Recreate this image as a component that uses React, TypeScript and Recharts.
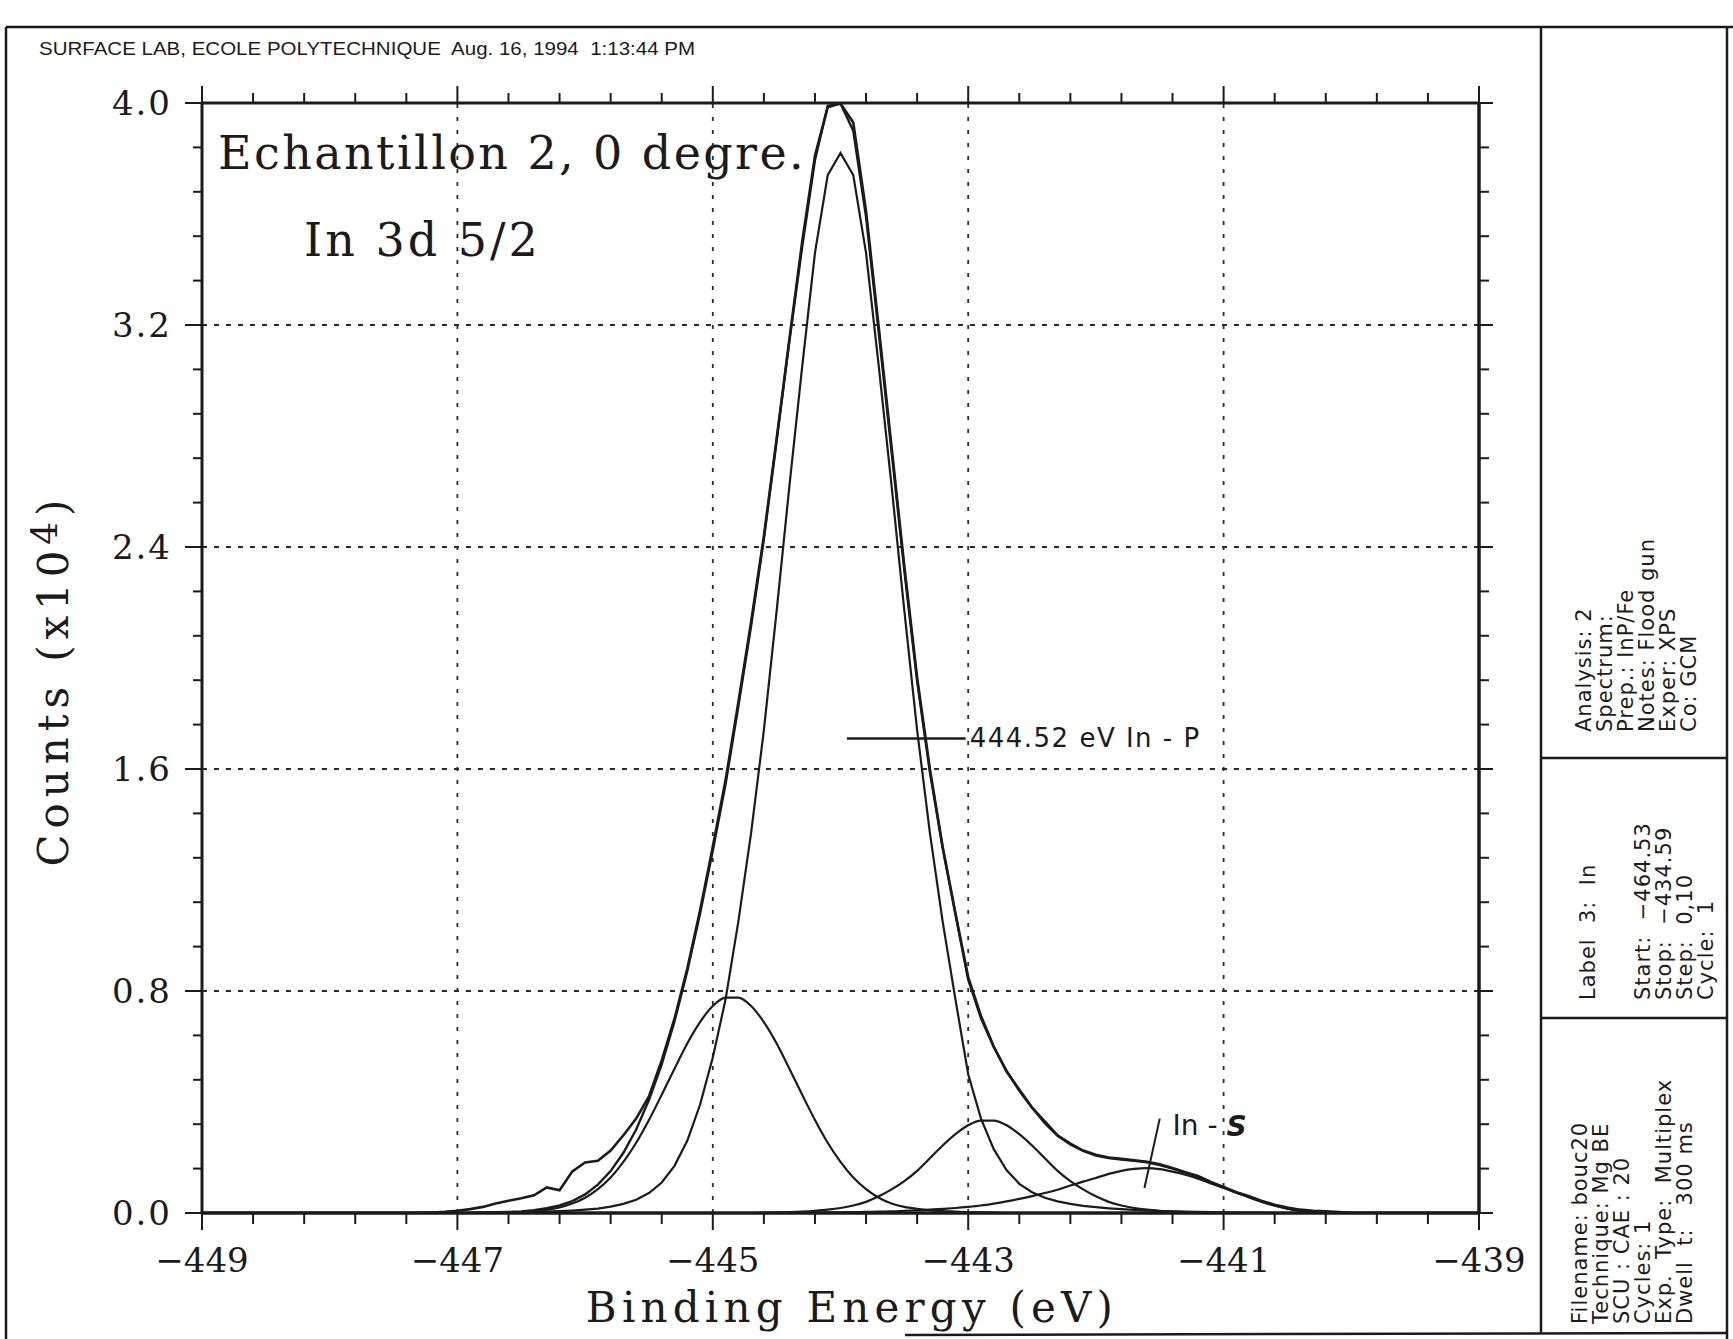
import React from 'react';
import { LineChart, Line, XAxis, YAxis, ReferenceLine, ReferenceDot } from 'recharts';

// binding energy (eV); every curve below is sampled on this grid
const energy = [
  -449, -448,
  -447.5, -447.4, -447.3, -447.2, -447.1, -447.0, -446.9, -446.8, -446.7, -446.6,
  -446.5, -446.4, -446.3, -446.2, -446.1, -446.0, -445.9, -445.8, -445.7, -445.6,
  -445.5, -445.4, -445.3, -445.2, -445.1, -445.0, -444.9, -444.8, -444.7, -444.6,
  -444.5, -444.4, -444.3, -444.2, -444.1, -444.0, -443.9, -443.8, -443.7, -443.6,
  -443.5, -443.4, -443.3, -443.2, -443.1, -443.0, -442.9, -442.8, -442.7, -442.6,
  -442.5, -442.4, -442.3, -442.2, -442.1, -442.0, -441.9, -441.8, -441.7, -441.6,
  -441.5, -441.4, -441.3, -441.2, -441.1, -441.0, -440.9, -440.8, -440.7, -440.6,
  -440.5, -440.4, -440.3, -440.2, -440.1, -440.0,
  -439.5, -439,
];

// counts (x10^4)
const measured = [
  0, 0,
  0, 0, 0, 0.002, 0.004, 0.008, 0.014, 0.022, 0.034, 0.044,
  0.053, 0.064, 0.092, 0.082, 0.15, 0.182, 0.188, 0.225, 0.28, 0.34,
  0.42, 0.55, 0.7, 0.88, 1.09, 1.32, 1.56, 1.84, 2.13, 2.44,
  2.79, 3.15, 3.5, 3.81, 3.985, 3.998, 3.93, 3.61, 3.19, 2.76,
  2.33, 1.93, 1.6, 1.32, 1.08, 0.85, 0.71, 0.6, 0.51, 0.445,
  0.38, 0.33, 0.28, 0.25, 0.225, 0.21, 0.2, 0.195, 0.19, 0.185,
  0.176, 0.162, 0.147, 0.133, 0.112, 0.094, 0.075, 0.06, 0.043, 0.03,
  0.02, 0.012, 0.008, 0.006, 0.003, 0.001,
  0, 0,
];

const envelopeFit = [
  0, 0,
  0, 0, 0, 0, 0, 0, 0, 0.002, 0.003, 0.004,
  0.006, 0.01, 0.017, 0.027, 0.043, 0.067, 0.102, 0.151, 0.217, 0.301,
  0.407, 0.536, 0.69, 0.871, 1.078, 1.306, 1.546, 1.826, 2.116, 2.429,
  2.783, 3.143, 3.482, 3.794, 3.99, 3.998, 3.9, 3.59, 3.17, 2.745,
  2.315, 1.917, 1.589, 1.315, 1.077, 0.841, 0.702, 0.598, 0.513, 0.44,
  0.379, 0.324, 0.278, 0.247, 0.224, 0.207, 0.198, 0.193, 0.188, 0.183,
  0.173, 0.16, 0.146, 0.13, 0.11, 0.092, 0.074, 0.057, 0.041, 0.027,
  0.016, 0.008, 0.003, 0.001, 0, 0,
  0, 0,
];

// In - P component
const peakInP = [
  0, 0,
  0, 0, 0, 0, 0, 0, 0, 0.001, 0.001, 0.002,
  0.003, 0.004, 0.005, 0.007, 0.009, 0.012, 0.016, 0.023, 0.033, 0.048,
  0.072, 0.11, 0.17, 0.26, 0.39, 0.56, 0.77, 1.05, 1.37, 1.74,
  2.17, 2.62, 3.05, 3.46, 3.74, 3.82, 3.74, 3.46, 3.05, 2.62,
  2.17, 1.74, 1.37, 1.05, 0.77, 0.5, 0.34, 0.23, 0.155, 0.105,
  0.075, 0.055, 0.042, 0.033, 0.026, 0.021, 0.017, 0.014, 0.011, 0.009,
  0.007, 0.006, 0.005, 0.004, 0.003, 0.002, 0.001, 0.001, 0.001, 0,
  0, 0, 0, 0, 0, 0,
  0, 0,
];

// low energy shoulder component
const peakLow = [
  0, 0,
  0, 0, 0, 0, 0, 0, 0, 0.001, 0.002, 0.002,
  0.003, 0.006, 0.012, 0.02, 0.034, 0.055, 0.086, 0.128, 0.184, 0.253,
  0.335, 0.426, 0.52, 0.611, 0.688, 0.746, 0.776, 0.776, 0.746, 0.688,
  0.611, 0.52, 0.426, 0.335, 0.253, 0.184, 0.128, 0.086, 0.055, 0.034,
  0.022, 0.015, 0.01, 0.007, 0.005, 0.003, 0.002, 0.001, 0, 0,
  0, 0, 0, 0, 0, 0, 0, 0, 0, 0,
  0, 0, 0, 0, 0, 0, 0, 0, 0, 0,
  0, 0, 0, 0, 0, 0,
  0, 0,
];

// component near -443
const peakMid = [
  0, 0,
  0, 0, 0, 0, 0, 0, 0, 0, 0, 0,
  0, 0, 0, 0, 0, 0, 0, 0, 0, 0,
  0, 0, 0, 0, 0, 0, 0, 0, 0, 0.001,
  0.002, 0.003, 0.005, 0.008, 0.012, 0.018, 0.027, 0.04, 0.06, 0.085,
  0.115, 0.152, 0.197, 0.243, 0.284, 0.316, 0.333, 0.333, 0.316, 0.284,
  0.243, 0.197, 0.152, 0.115, 0.085, 0.06, 0.04, 0.027, 0.018, 0.012,
  0.008, 0.005, 0.003, 0.002, 0.001, 0, 0, 0, 0, 0,
  0, 0, 0, 0, 0, 0,
  0, 0,
];

// In - S component
const peakInS = [
  0, 0,
  0, 0, 0, 0, 0, 0, 0, 0, 0, 0,
  0, 0, 0, 0, 0, 0, 0, 0, 0, 0,
  0, 0, 0, 0, 0, 0, 0, 0, 0, 0,
  0, 0, 0.001, 0.001, 0.002, 0.002, 0.003, 0.004, 0.005, 0.006,
  0.008, 0.01, 0.012, 0.015, 0.018, 0.022, 0.027, 0.034, 0.042, 0.051,
  0.061, 0.072, 0.084, 0.099, 0.113, 0.126, 0.141, 0.152, 0.159, 0.162,
  0.158, 0.149, 0.138, 0.124, 0.106, 0.09, 0.073, 0.056, 0.04, 0.027,
  0.016, 0.008, 0.003, 0.001, 0, 0,
  0, 0,
];

const xLabelTicks = [-449, -447, -445, -443, -441, -439];
const xTicks = [
  -449, -448.6, -448.2, -447.8, -447.4, -447, -446.6, -446.2, -445.8, -445.4, -445,
  -444.6, -444.2, -443.8, -443.4, -443, -442.6, -442.2, -441.8, -441.4, -441,
  -440.6, -440.2, -439.8, -439.4, -439,
];
const yLabelTicks = [0, 0.8, 1.6, 2.4, 3.2, 4.0];
const yTicks = [
  0, 0.16, 0.32, 0.48, 0.64, 0.8, 0.96, 1.12, 1.28, 1.44, 1.6, 1.76, 1.92,
  2.08, 2.24, 2.4, 2.56, 2.72, 2.88, 3.04, 3.2, 3.36, 3.52, 3.68, 3.84, 4.0,
];
const gridX = [-447, -445, -443, -441];
const gridY = [0.8, 1.6, 2.4, 3.2];

const topBlock = ['Analysis: 2', 'Spectrum:', 'Prep.: InP/Fe', 'Notes: Flood gun', 'Exper: XPS', 'Co: GCM'];
const midBlock = ['Start:  \u2212464.53', 'Stop:  \u2212434.59', 'Step:  0,10', 'Cycle:  1'];
const lowBlock = ['Filename: bouc20', 'Technique: Mg BE', 'SCU : CAE : 20', 'Cycles: 1', 'Exp.  Type:  Multiplex', 'Dwell  t:   300 ms'];

const rows = energy.map((e, i) => ({
  e,
  measured: measured[i],
  envelopeFit: envelopeFit[i],
  peakInP: peakInP[i],
  peakLow: peakLow[i],
  peakMid: peakMid[i],
  peakInS: peakInS[i],
}));

const W = 1733;
const H = 1339;
const INK = '#1b1b1b';
const serif = '"DejaVu Serif", serif';
const sans = '"DejaVu Sans", sans-serif';

const isOn = (list: number[], v: number) => list.some((t) => Math.abs(t - v) < 1e-6);
const tickText = { fontFamily: serif, fontSize: 34, fill: INK };

function BottomTick({ x, y, payload }: any) {
  const major = isOn(xLabelTicks, payload.value);
  return (
    <g>
      <line x1={x} y1={y} x2={x} y2={y + (major ? 17 : 11)} stroke={INK} strokeWidth={2} />
      {major && (
        <text x={x} y={y + 47} textAnchor="middle" dominantBaseline="central" style={tickText}>
          {'\u2212' + Math.abs(payload.value)}
        </text>
      )}
    </g>
  );
}

function TopTick({ x, y, payload }: any) {
  const major = isOn(xLabelTicks, payload.value);
  return <line x1={x} y1={y} x2={x} y2={y - (major ? 17 : 10)} stroke={INK} strokeWidth={2} />;
}

function LeftTick({ x, y, payload }: any) {
  const major = isOn(yLabelTicks, payload.value);
  return (
    <g>
      <line x1={x} y1={y} x2={x - (major ? 17 : 9)} y2={y} stroke={INK} strokeWidth={2} />
      {major && (
        <text x={x - 30} y={y} textAnchor="end" dominantBaseline="central" style={{ ...tickText, letterSpacing: 2 }}>
          {payload.value.toFixed(1)}
        </text>
      )}
    </g>
  );
}

function RightTick({ x, y, payload }: any) {
  const major = isOn(yLabelTicks, payload.value);
  return <line x1={x} y1={y} x2={x + (major ? 14 : 10)} y2={y} stroke={INK} strokeWidth={2} />;
}

function Overlay() {
  const col = (cx: number, y0: number, text: string, key: string) => (
    <text
      key={key}
      x={cx + 7}
      y={y0}
      transform={`rotate(-90 ${cx + 7} ${y0})`}
      style={{ fontFamily: sans, fontSize: 21, letterSpacing: 1, fill: INK, whiteSpace: 'pre' }}
    >
      {text}
    </text>
  );
  return (
    <svg width={W} height={H} style={{ position: 'absolute', left: 0, top: 0, pointerEvents: 'none' }}>
      <g stroke={INK} strokeWidth={2.5} fill="none">
        <line x1={6} y1={27} x2={W} y2={27} />
        <line x1={6} y1={27} x2={6} y2={H} />
        <line x1={1541} y1={27} x2={1541} y2={1334} />
        <line x1={1727} y1={27} x2={1727} y2={H} />
        <line x1={1541} y1={758} x2={1727} y2={758} />
        <line x1={1541} y1={1018} x2={1727} y2={1018} />
        <line x1={905} y1={1335} x2={1727} y2={1333} />
      </g>
      <text
        x={39}
        y={55}
        textLength={656}
        lengthAdjust="spacingAndGlyphs"
        style={{ fontFamily: '"Liberation Sans", sans-serif', fontSize: 18, fill: INK, whiteSpace: 'pre' }}
      >
        SURFACE LAB, ECOLE POLYTECHNIQUE  Aug. 16, 1994  1:13:44 PM
      </text>
      <text x={218} y={169} style={{ fontFamily: serif, fontSize: 46, letterSpacing: 2.4, fill: INK }}>
        Echantillon 2, 0 degre.
      </text>
      <text x={304} y={256} style={{ fontFamily: serif, fontSize: 46, letterSpacing: 3, fill: INK }}>
        In 3d 5/2
      </text>
      <text x={852} y={1322} textAnchor="middle" style={{ fontFamily: serif, fontSize: 42, letterSpacing: 5.2, fill: INK }}>
        Binding Energy (eV)
      </text>
      <text
        x={53}
        y={680}
        textAnchor="middle"
        dominantBaseline="central"
        transform="rotate(-90 53 680)"
        style={{ fontFamily: serif, fontSize: 42, letterSpacing: 5.9, fill: INK }}
      >
        Counts (x10<tspan fontSize={36} dy={-9}>4</tspan><tspan dy={9}>)</tspan>
      </text>
      {topBlock.map((t, i) => col(1584 + i * 21, 732, t, 'a' + i))}
      {col(1588, 1000, 'Label  3:  In', 'lb')}
      {midBlock.map((t, i) => col(1643 + i * 21, 1000, t, 'm' + i))}
      {lowBlock.map((t, i) => col(1580 + i * 21, 1324, t, 'f' + i))}
    </svg>
  );
}

const inPLabel = (p: any) => (
  <text x={p.cx + 4} y={p.cy} dominantBaseline="central" style={{ fontFamily: sans, fontSize: 26, letterSpacing: 1.5, fill: INK }}>
    444.52 eV In - P
  </text>
);

const inSLabel = (p: any) => (
  <text x={p.cx} y={p.cy} dominantBaseline="central" style={{ fontFamily: sans, fontSize: 28, fill: INK }}>
    In - <tspan fontWeight="bold" fontStyle="italic">S</tspan>
  </text>
);

export default function App() {
  const line = { xAxisId: 'b', yAxisId: 'l', dot: false, isAnimationActive: false, stroke: INK } as const;
  const axisCommon = { type: 'number', allowDataOverflow: true, interval: 0, tickSize: 0, tickMargin: 0, tickLine: false } as const;
  return (
    <div style={{ position: 'absolute', left: 0, top: 0, width: W, height: H, background: '#fff' }}>
      <LineChart width={W} height={H} data={rows} margin={{ top: 102, right: 253, bottom: 125, left: 201 }}>
        <XAxis
          {...axisCommon}
          xAxisId="b"
          dataKey="e"
          domain={[-449, -439]}
          ticks={xTicks}
          tick={BottomTick}
          height={1}
          axisLine={{ stroke: INK, strokeWidth: 3.5 }}
        />
        <XAxis
          {...axisCommon}
          xAxisId="t"
          orientation="top"
          dataKey="e"
          domain={[-449, -439]}
          ticks={xTicks}
          tick={TopTick}
          height={1}
          axisLine={{ stroke: INK, strokeWidth: 3 }}
        />
        <YAxis
          {...axisCommon}
          yAxisId="l"
          domain={[0, 4]}
          ticks={yTicks}
          tick={LeftTick}
          width={1}
          axisLine={{ stroke: INK, strokeWidth: 3 }}
        />
        <YAxis
          {...axisCommon}
          yAxisId="r"
          orientation="right"
          domain={[0, 4]}
          ticks={yTicks}
          tick={RightTick}
          width={1}
          axisLine={{ stroke: INK, strokeWidth: 3.5 }}
        />
        {gridY.map((v) => (
          <ReferenceLine key={'h' + v} xAxisId="b" yAxisId="l" y={v} stroke="#2a2a2a" strokeWidth={1.8} strokeDasharray="5 7" />
        ))}
        {gridX.map((v) => (
          <ReferenceLine key={'v' + v} xAxisId="b" yAxisId="l" x={v} stroke="#2a2a2a" strokeWidth={1.8} strokeDasharray="4 9" />
        ))}
        <Line {...line} type="monotone" dataKey="peakLow" strokeWidth={2.2} />
        <Line {...line} type="monotone" dataKey="peakMid" strokeWidth={2.2} />
        <Line {...line} type="monotone" dataKey="peakInS" strokeWidth={2.2} />
        <Line {...line} type="linear" dataKey="peakInP" strokeWidth={2.2} />
        <Line {...line} type="linear" dataKey="envelopeFit" strokeWidth={2.4} />
        <Line {...line} type="linear" dataKey="measured" strokeWidth={2.6} />
        <ReferenceLine
          xAxisId="b"
          yAxisId="l"
          segment={[{ x: -443.95, y: 1.71 }, { x: -443.02, y: 1.71 }]}
          stroke={INK}
          strokeWidth={2.5}
        />
        <ReferenceDot xAxisId="b" yAxisId="l" x={-443.02} y={1.71} r={0} shape={inPLabel} />
        <ReferenceLine
          xAxisId="b"
          yAxisId="l"
          segment={[{ x: -441.62, y: 0.09 }, { x: -441.5, y: 0.34 }]}
          stroke={INK}
          strokeWidth={2}
        />
        <ReferenceDot xAxisId="b" yAxisId="l" x={-441.4} y={0.315} r={0} shape={inSLabel} />
      </LineChart>
      <Overlay />
    </div>
  );
}
